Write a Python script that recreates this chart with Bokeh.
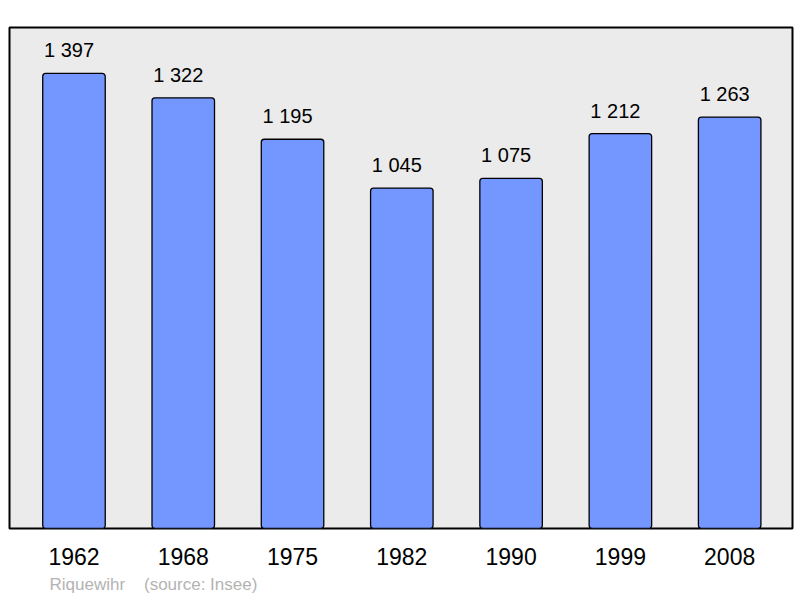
from bokeh.plotting import figure
from bokeh.models import ColumnDataSource, Title, FixedTicker, Range1d
from bokeh.core.properties import value
from bokeh.embed import file_html
from bokeh.resources import INLINE

years = ["1962", "1968", "1975", "1982", "1990", "1999", "2008"]
population = [1397, 1322, 1195, 1045, 1075, 1212, 1263]
labels = ["1 397", "1 322", "1 195", "1 045", "1 075", "1 212", "1 263"]
footer = "Riquewihr\u00a0\u00a0\u00a0\u00a0(source: Insee)"

xs = list(range(len(years)))
src = ColumnDataSource(dict(x=xs, pop=population, lab=labels))

p = figure(width=799, height=598, output_backend="svg", toolbar_location=None,
           x_range=Range1d(-0.59, 6.575), y_range=Range1d(0, 1538),
           min_border_left=9, min_border_right=7, min_border_top=27, min_border_bottom=70)
p.background_fill_color = "#ebebeb"
p.border_fill_color = "white"
p.outline_line_color = "black"
p.outline_line_width = 2
p.grid.visible = False
p.yaxis.visible = False

p.vbar(x="x", top="pop", bottom=0, width=0.572, source=src,
       fill_color="#7396ff", line_color="black", line_width=1.3, border_radius=3)
p.text(x="x", y="pop", text="lab", source=src, text_align="center", text_baseline="bottom",
       x_offset=-5, y_offset=-12, text_font=value("Liberation Sans"), text_font_size="20px",
       text_color="black")

xa = p.xaxis[0]
xa.ticker = FixedTicker(ticks=xs)
xa.major_label_overrides = {i: y for i, y in zip(xs, years)}
xa.axis_line_color = None
xa.major_tick_line_color = None
xa.minor_tick_line_color = None
xa.major_tick_out = 0
xa.major_label_standoff = 19
xa.major_label_text_font = "Liberation Sans"
xa.major_label_text_font_size = "23px"
xa.major_label_text_color = "black"

t = Title(text=footer, align="left", offset=40, text_color="#b3b3b3",
          text_font="Liberation Sans", text_font_size="17px", text_font_style="normal")
p.add_layout(t, "below")

open("out.html", "w").write(file_html(p, INLINE))
